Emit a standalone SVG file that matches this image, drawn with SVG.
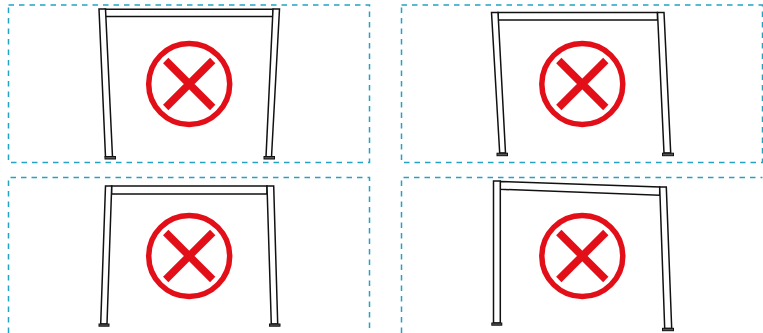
<svg xmlns="http://www.w3.org/2000/svg" width="763" height="333" viewBox="0 0 763 333">
<style>
.panel{fill:none;stroke:#22a3c3;stroke-width:1.5;stroke-dasharray:5.5 5}
.beam,.post{fill:#fff;stroke:#111;stroke-width:1.5;stroke-linejoin:miter}
.foot{fill:#555;stroke:#111;stroke-width:1}
.ring{fill:none;stroke:#e30f18;stroke-width:5.5}
.cross{fill:none;stroke:#e30f18;stroke-width:7.5}
</style>
<defs>
<g id="no">
<circle class="ring" r="40.5"/>
<path class="cross" d="M-23.5-23.5L23.5 23.5M23.5-23.5L-23.5 23.5"/>
</g>
</defs>
<g id="connectors"/>
<g id="panel-1">
<rect class="panel" x="8.5" y="5" width="361" height="157.5"/>
<path class="beam" d="M105 9.3H273V16.5H105Z"/>
<path class="post" d="M99 9L105.5 9L112.5 157L105.5 157Z"/>
<path class="post" d="M273 9L279.5 9L271.5 157L266 157Z"/>
<rect class="foot" x="105" y="156.5" width="10.5" height="2.5"/>
<rect class="foot" x="264" y="156.5" width="10.5" height="2.5"/>
<use href="#no" x="189.2" y="84"/>
</g>
<g id="panel-2">
<rect class="panel" x="401.5" y="5" width="361" height="157.5"/>
<path class="beam" d="M498 12.5H657.5V20H498Z"/>
<path class="post" d="M491.5 12.5L498 12.5L505.5 153L499.7 153Z"/>
<path class="post" d="M657.5 12.5L664 12.5L670.7 153L664 153Z"/>
<rect class="foot" x="497" y="153.2" width="10.5" height="2.5"/>
<rect class="foot" x="662.5" y="153.2" width="11" height="2.5"/>
<use href="#no" x="582.3" y="84"/>
</g>
<g id="panel-3">
<path class="panel" d="M8.5 333V177.5H369.5V333"/>
<path class="beam" d="M111.5 186H267V194H111.5Z"/>
<path class="post" d="M105.5 186L111.7 186L107 324L100.7 324Z"/>
<path class="post" d="M267 186L273.7 186L277.7 324L271.3 324Z"/>
<rect class="foot" x="99" y="324" width="10" height="2.2"/>
<rect class="foot" x="269.5" y="324" width="10.5" height="2.2"/>
<use href="#no" x="189.2" y="256"/>
</g>
<g id="panel-4">
<path class="panel" d="M401.5 333V177.5H762.5"/>
<path class="beam" d="M500.3 181.5L659.7 187L659.7 195.3L500.3 189.3Z"/>
<path class="post" d="M493.5 181H500.3V323H493.5Z"/>
<path class="post" d="M659.7 187H666.3L671.7 328.5H664.7Z"/>
<rect class="foot" x="491.8" y="323" width="10" height="2.2"/>
<rect class="foot" x="662.5" y="328.3" width="11" height="2.4"/>
<use href="#no" x="582.3" y="256"/>
</g>
</svg>
